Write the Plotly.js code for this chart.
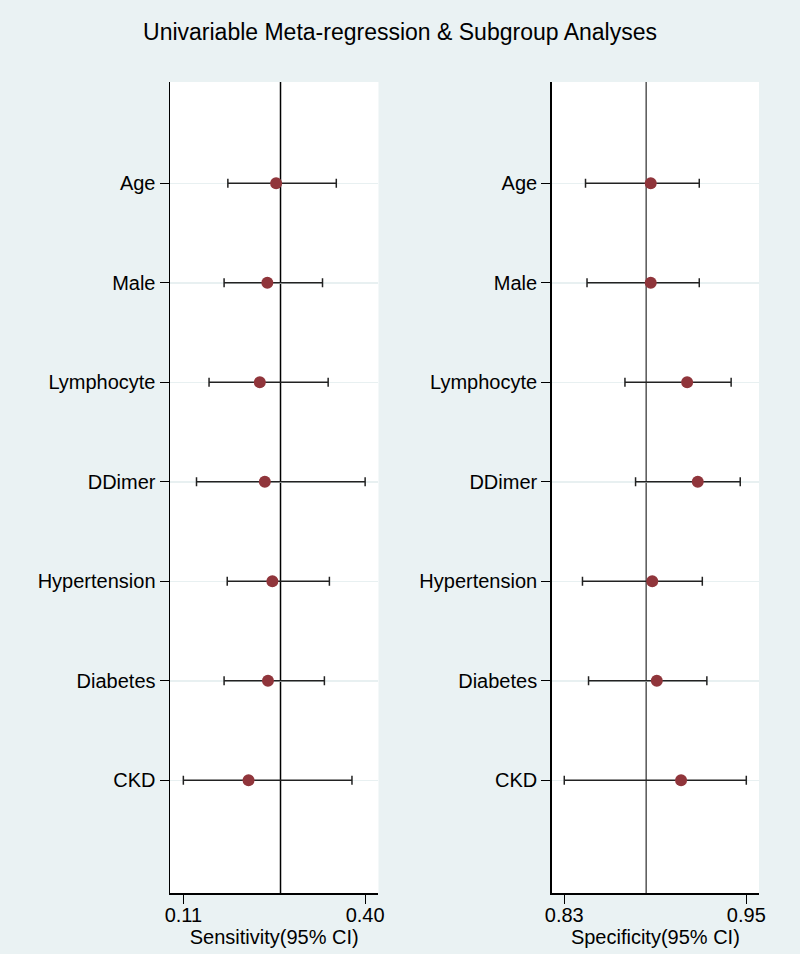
<!DOCTYPE html>
<html>
<head>
<meta charset="utf-8">
<script src="https://cdn.plot.ly/plotly-3.0.1.min.js"></script>
<style>html,body{margin:0;padding:0;background:#eaf2f3;}#chart{width:800px;height:954px;}</style>
</head>
<body>
<div id="chart"></div>
<script>
// Covariates (top to bottom)
const covariates = ["Age", "Male", "Lymphocyte", "DDimer", "Hypertension", "Diabetes", "CKD"];

// Sensitivity estimates with 95% CI
const sensEst = [0.258, 0.244, 0.232, 0.240, 0.252, 0.245, 0.214];
const sensLow = [0.181, 0.175, 0.151, 0.131, 0.180, 0.175, 0.110];
const sensHigh = [0.354, 0.332, 0.341, 0.400, 0.343, 0.335, 0.379];
const sensPooled = [0.265];

// Specificity estimates with 95% CI
const specEst = [0.887, 0.887, 0.911, 0.918, 0.888, 0.891, 0.907];
const specLow = [0.844, 0.845, 0.870, 0.877, 0.842, 0.846, 0.830];
const specHigh = [0.919, 0.919, 0.940, 0.946, 0.921, 0.924, 0.950];
const specPooled = [0.884];

// Axis tick labels
const sensTicks = [0.11, 0.40];
const sensTickText = ["0.11", "0.40"];
const specTicks = [0.83, 0.95];
const specTickText = ["0.83", "0.95"];

const FONT = "Liberation Sans, Arial, Helvetica, sans-serif";
const MARK = "#90353b";
const ERR = "#222222";

function diffUp(est, hi) { return est.map((v, i) => hi[i] - v); }
function diffDn(est, lo) { return est.map((v, i) => v - lo[i]); }

const traces = [
  {
    type: "scatter", mode: "markers",
    x: sensEst, y: covariates, xaxis: "x", yaxis: "y",
    marker: {color: MARK, size: 12},
    error_x: {type: "data", symmetric: false,
      array: diffUp(sensEst, sensHigh), arrayminus: diffDn(sensEst, sensLow),
      color: ERR, thickness: 1.5, width: 4.5},
    showlegend: false, hoverinfo: "x+y"
  },
  {
    type: "scatter", mode: "markers",
    x: specEst, y: covariates, xaxis: "x2", yaxis: "y2",
    marker: {color: MARK, size: 12},
    error_x: {type: "data", symmetric: false,
      array: diffUp(specEst, specHigh), arrayminus: diffDn(specEst, specLow),
      color: ERR, thickness: 1.5, width: 4.5},
    showlegend: false, hoverinfo: "x+y"
  }
];

const catOrder = covariates.slice().reverse();
const yRange = [-1.133, 7.018];

function yaxisDef(anchor) {
  return {
    domain: [0.0639, 0.9140], anchor: anchor,
    type: "category", categoryorder: "array", categoryarray: catOrder,
    range: yRange, fixedrange: true,
    showline: true, linecolor: "#000", linewidth: 1.5,
    ticks: "outside", ticklen: 9, tickwidth: 1.2, tickcolor: "#000",
    tickfont: {family: FONT, size: 20, color: "#000"},
    showgrid: true, gridcolor: "#e8f0f1", gridwidth: 1.5,
    zeroline: false, automargin: false
  };
}

function xaxisDef(domain, anchor, range, tv, tt, title) {
  return {
    domain: domain, anchor: anchor, range: range,
    tickmode: "array", tickvals: tv, ticktext: tt,
    showline: true, linecolor: "#000", linewidth: 1.5,
    ticks: "outside", ticklen: 9, tickwidth: 1.2, tickcolor: "#000",
    ticklabelstandoff: -6,
    tickfont: {family: FONT, size: 20, color: "#000"},
    showgrid: false, zeroline: false, automargin: false,
    title: {text: title, font: {family: FONT, size: 20, color: "#000"}, standoff: 1}
  };
}

const layout = {
  width: 800, height: 954,
  margin: {l: 0, r: 0, t: 0, b: 0},
  paper_bgcolor: "#eaf2f3", plot_bgcolor: "#ffffff",
  font: {family: FONT, color: "#000"},
  title: {text: "Univariable Meta-regression & Subgroup Analyses",
    font: {family: FONT, size: 23, color: "#000"},
    x: 0.5, xanchor: "center", xref: "paper", y: 0.9665, yanchor: "middle", yref: "paper"},
  xaxis: xaxisDef([0.2125, 0.4731], "y", [0.0887, 0.4213], sensTicks, sensTickText, "Sensitivity(95% CI)"),
  yaxis: yaxisDef("x"),
  xaxis2: xaxisDef([0.6896, 0.9488], "y2", [0.8217, 0.9584], specTicks, specTickText, "Specificity(95% CI)"),
  yaxis2: yaxisDef("x2"),
  shapes: [
    {type: "line", xref: "x", yref: "y domain", x0: sensPooled[0], x1: sensPooled[0], y0: 0, y1: 1,
      line: {color: "#000", width: 1.5}, layer: "below"},
    {type: "line", xref: "x2", yref: "y2 domain", x0: specPooled[0], x1: specPooled[0], y0: 0, y1: 1,
      line: {color: "#555", width: 1.5}, layer: "below"}
  ],
  showlegend: false
};

Plotly.newPlot("chart", traces, layout, {displayModeBar: false, staticPlot: true});
</script>
</body>
</html>
